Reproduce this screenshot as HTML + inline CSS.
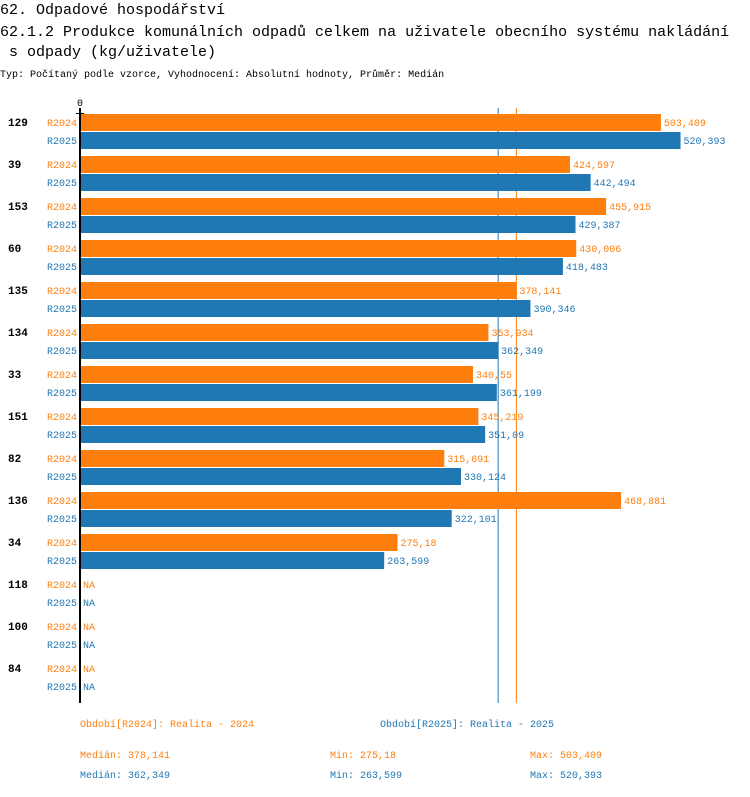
<!DOCTYPE html>
<html><head><meta charset="utf-8"><style>
body{margin:0;background:#fff;width:750px;height:792px;overflow:hidden;font-family:"Liberation Mono",monospace}
svg text{font-family:"Liberation Mono",monospace}
</style></head><body>
<svg id="c" width="750" height="792" xmlns="http://www.w3.org/2000/svg">
<text x="0" y="14" font-size="15" fill="#000">62. Odpadové hospodářství</text>
<text x="0" y="36" font-size="15" fill="#000">62.1.2 Produkce komunálních odpadů celkem na uživatele obecního systému nakládání</text>
<text x="9" y="56" font-size="15" fill="#000">s odpady (kg/uživatele)</text>
<text x="0" y="77" font-size="10" fill="#000">Typ: Počítaný podle vzorce, Vyhodnocení: Absolutní hodnoty, Průměr: Medián</text>
<g id="plot"></g>
</svg>
<script>
const categories=["129","39","153","60","135","134","33","151","82","136","34","118","100","84"];
const r2024=[503.409,424.597,455.915,430.006,378.141,353.934,340.55,345.219,315.691,468.881,275.18,null,null,null];
const r2025=[520.393,442.494,429.387,418.483,390.346,362.349,361.199,351.09,330.124,322.101,263.599,null,null,null];
const seriesNames=["R2024","R2025"];
const median2024=378.141, median2025=362.349;
const min2024=275.18, min2025=263.599, max2024=503.409, max2025=520.393;
const O="#ff7f0e",B="#1f77b4",NS="http://www.w3.org/2000/svg";
const x0=80,k=1.154;
const x=v=>x0+v*k;
const g=document.getElementById('plot');
function el(t,a,txt){const e=document.createElementNS(NS,t);for(const n in a)e.setAttribute(n,a[n]);if(txt!=null)e.textContent=txt;g.appendChild(e);return e;}
function fmt(v){return String(v).replace('.',',');}
let m1=el('line',{x1:x(median2025),x2:x(median2025),y1:108,y2:703,stroke:B,'stroke-width':1});


let m2=el('line',{x1:x(median2024),x2:x(median2024),y1:108,y2:703,stroke:O,'stroke-width':1});


categories.forEach((c,i)=>{
  const y=114+42*i;
  let t=el('text',{x:8,y:y+12,'font-size':11,'font-weight':'bold',fill:'#000'},c);
  
  
  [r2024,r2025].forEach((s,j)=>{
    const col=j?B:O, yy=y+18*j, v=s[i];
    let l=el('text',{x:77,y:yy+12,'font-size':10,fill:col,'text-anchor':'end'},seriesNames[j]);
    
    
    if(v!=null){
      let r=el('rect',{x:x0,y:yy,width:x(v)-x0,height:17,fill:col});
      
      
    }
    let vt=el('text',{x:(v!=null?x(v):x0)+3,y:yy+12,'font-size':10,fill:col},v!=null?fmt(v):'NA');
    
    
  });
});
let ax=el('line',{x1:80,x2:80,y1:108,y2:703,stroke:'#000','stroke-width':2});


let tk=el('line',{x1:76,x2:84,y1:113.5,y2:113.5,stroke:'#000','stroke-width':1});


let z=el('text',{x:80,y:106,'font-size':10,'text-anchor':'middle',fill:'#000'},'0');


const texts=[
 [80,727,O,'Období[R2024]: Realita - 2024','legend-r2024'],
 [380,727,B,'Období[R2025]: Realita - 2025','legend-r2025'],
 [80,758,O,'Medián: '+fmt(median2024),'median-r2024'],
 [330,758,O,'Min: '+fmt(min2024),'min-r2024'],
 [530,758,O,'Max: '+fmt(max2024),'max-r2024'],
 [80,778,B,'Medián: '+fmt(median2025),'median-r2025'],
 [330,778,B,'Min: '+fmt(min2025),'min-r2025'],
 [530,778,B,'Max: '+fmt(max2025),'max-r2025']];
texts.forEach(a=>{let t=el('text',{x:a[0],y:a[1],'font-size':10,fill:a[2]},a[3]);
 
 });
</script>
</body></html>
